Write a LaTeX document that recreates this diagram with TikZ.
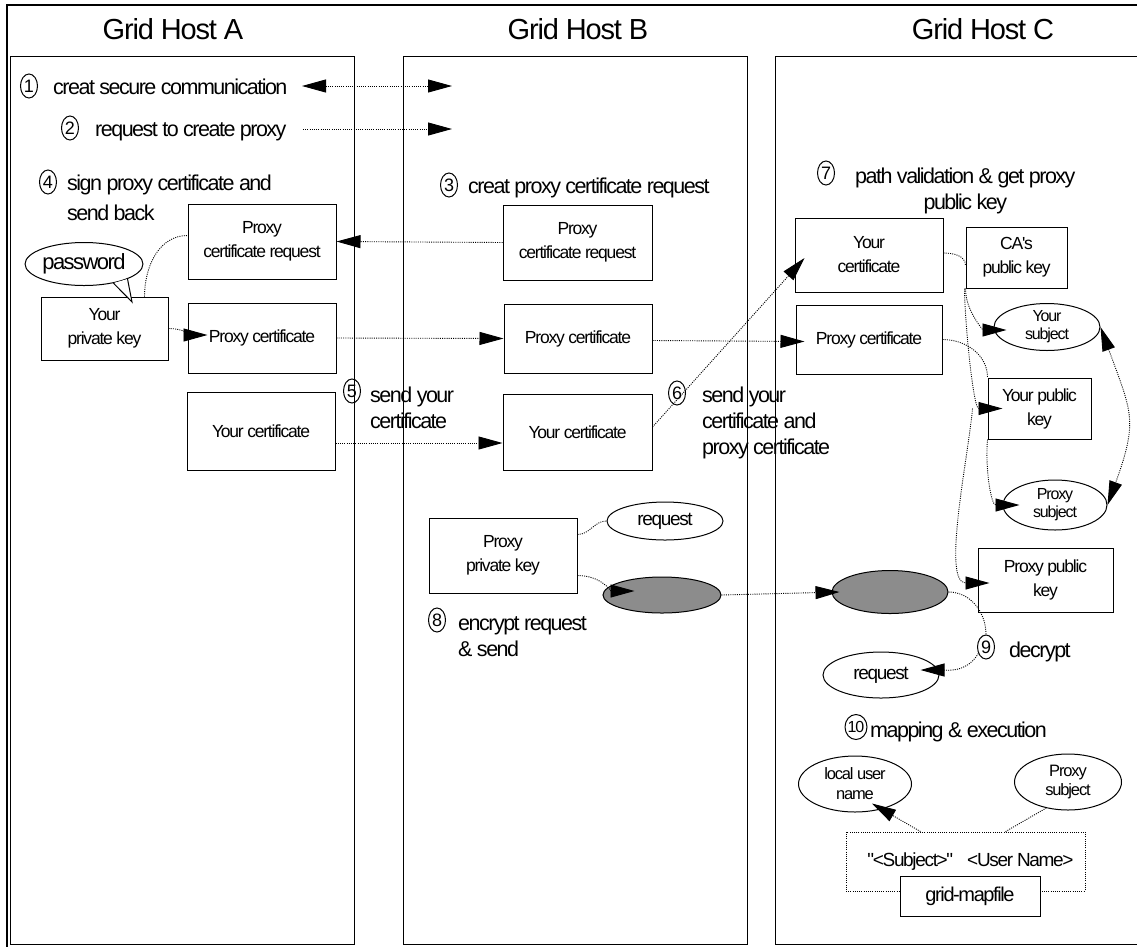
\documentclass[tikz,border=0pt]{standalone}
\usepackage{fontspec}
\setmainfont{Liberation Sans}
\newfontfamily\tightfont{Liberation Sans}[LetterSpace=-7]
\newfontfamily\titlefam{Liberation Sans}[LetterSpace=-4]
\usetikzlibrary{arrows.meta,shapes.geometric}

\tikzset{
  panel/.style={draw, line width=1.3pt, inner sep=0pt, anchor=north west},
  hosttitle/.style={inner sep=0pt, font=\titlefam\fontsize{29}{32}\selectfont},
  box/.style={draw, line width=1pt, fill=white, align=center, inner sep=0pt,
    font=\tightfont\fontsize{17.5}{24}\selectfont},
  oval/.style={draw, ellipse, line width=1pt, fill=white, align=center, inner sep=-5pt,
    font=\tightfont\fontsize{16}{18}\selectfont},
  cipher/.style={draw, ellipse, line width=1pt, fill=black!45, inner sep=0pt},
  num/.style={draw, ellipse, line width=1pt, inner sep=0pt, minimum width=17pt,
    minimum height=24pt, font=\fontsize{18}{18}\selectfont},
  steptext/.style={anchor=base west, inner sep=0pt, align=left,
    font=\tightfont\fontsize{21.5}{26}\selectfont},
  link/.style={line width=0.9pt, dash pattern=on 1pt off 1.2pt},
  tip/.style={link, -{Triangle[length=24pt,width=13pt]}},
  tips/.style={link, {Triangle[length=24pt,width=13pt]}-{Triangle[length=24pt,width=13pt]}},
}

\begin{document}
\begin{tikzpicture}[x=1pt,y=-1pt]
\useasboundingbox (0,0) rectangle (1137,946);

% outer frame (runs off the right and bottom edges)
\draw[line width=1.2pt] (7,960) -- (7,5) -- (1150,5);

% host panels
\node[panel, minimum width=344pt, minimum height=888pt] (pA) at (10,56) {};
\node[panel, minimum width=344pt, minimum height=888pt] (pB) at (403,56) {};
\node[panel, minimum width=380pt, minimum height=888pt] (pC) at (775,56) {};

\node[hosttitle] (tA) at (173,29) {Grid Host A};
\node[hosttitle] (tB) at (578,29) {Grid Host B};
\node[hosttitle] (tC) at (983,29) {Grid Host C};

% ---- step labels (multi-line labels sit on the baseline of their last line) ----
\node[num] (n1) at (29,86) {\makebox[0pt]{1}};
\node[steptext] (s1) at (53,94) {creat secure communication};
\node[num] (n2) at (70,128) {\makebox[0pt]{2}};
\node[steptext] (s2) at (95,136) {request to create proxy};
\node[num] (n4) at (48,182) {\makebox[0pt]{4}};
\node[steptext] (s4) at (67,220) {sign proxy certificate and\\[4pt]send back};
\node[num] (n3) at (449,185) {\makebox[0pt]{3}};
\node[steptext] (s3) at (468,193) {creat proxy certificate request};
\node[num] (n5) at (352,391) {\makebox[0pt]{5}};
\node[steptext] (s5) at (370,428) {send your\\certificate};
\node[num] (n6) at (677,393) {\makebox[0pt]{6}};
\node[steptext] (s6) at (702,454) {send your\\certificate and\\proxy certificate};
\node[num] (n7) at (826,173) {\makebox[0pt]{7}};
\node[steptext, align=center] (s7) at (855,209) {path validation \& get proxy\\public key};
\node[num] (n8) at (437,620) {\makebox[0pt]{8}};
\node[steptext] (s8) at (458,656) {encrypt request\\\& send};
\node[num] (n9) at (986,647) {\makebox[0pt]{9}};
\node[steptext] (s9) at (1009,657) {decrypt};
\node[num, minimum width=22pt, minimum height=25pt, font=\tightfont\fontsize{16}{16}\selectfont]
  (n10) at (856,727) {\makebox[0pt]{10}};
\node[steptext] (s10) at (870,737) {mapping \& execution};

% ---- Grid Host A ----
\node[box, minimum width=148pt, minimum height=75pt] (Areq) at (262,241.5) {Proxy\\certificate request};
\node[box, minimum width=127pt, minimum height=63pt] (Apriv) at (104.5,328.5) {Your\\private key};
\node[box, minimum width=148pt, minimum height=70pt] (Aproxy) at (262,338) {Proxy certificate};
\node[box, minimum width=148pt, minimum height=78pt] (Acert) at (261,431) {Your certificate};
\node[draw, ellipse, line width=1pt, fill=white, inner sep=0pt, minimum width=108pt,
  minimum height=43pt, font=\tightfont\fontsize{22}{24}\selectfont] (pw) at (84,264) {password};
\coordinate (pwtip) at (132,302);
\fill[white] (pw.-33) -- (pwtip) -- (pw.-19) -- cycle;
\draw[line width=1pt] (pw.-33) -- (pwtip) -- (pw.-19);

% ---- Grid Host B ----
\node[box, minimum width=149pt, minimum height=75pt] (Breq) at (577.5,242.5) {Proxy\\certificate request};
\node[box, minimum width=148pt, minimum height=69pt] (Bproxy) at (578,338.5) {Proxy certificate};
\node[box, minimum width=149pt, minimum height=76pt] (Bcert) at (577.5,432) {Your certificate};
\node[box, minimum width=148pt, minimum height=75pt] (Bpriv) at (503,555.5) {Proxy\\private key};
\node[oval, minimum width=116pt, minimum height=38pt, font=\tightfont\fontsize{19}{22}\selectfont] (Breqo) at (665,521) {request};
\node[cipher, minimum width=118pt, minimum height=36pt] (Benc) at (662,595) {};

% ---- Grid Host C ----
\node[box, minimum width=148pt, minimum height=74pt] (Ccert) at (869,255) {Your\\certificate};
\node[box, minimum width=101pt, minimum height=61pt] (CA) at (1016.5,257.5) {CA's\\public key};
\node[box, minimum width=146pt, minimum height=69pt] (Cproxy) at (869,339.5) {Proxy certificate};
\node[oval, minimum width=106pt, minimum height=47pt] (Ysub) at (1047,327) {Your\\subject};
\node[box, minimum width=103pt, minimum height=61pt] (Ypub) at (1039.5,408.5) {Your public\\key};
\node[oval, minimum width=104pt, minimum height=50pt] (Psub) at (1055,505) {Proxy\\subject};
\node[box, minimum width=135pt, minimum height=64pt] (Ppub) at (1045.5,580) {Proxy public\\key};
\node[cipher, minimum width=116pt, minimum height=43pt] (Cenc) at (890,592) {};
\node[oval, minimum width=116pt, minimum height=46pt, font=\tightfont\fontsize{19}{22}\selectfont] (Creq) at (881,675) {request};
\node[oval, minimum width=113pt, minimum height=56pt, font=\tightfont\fontsize{16.5}{20}\selectfont] (luser) at (855,784) {local user\\name};
\node[oval, minimum width=107pt, minimum height=56pt, font=\tightfont\fontsize{16.5}{19}\selectfont] (psub2) at (1068,782) {Proxy\\subject};
\node[link, draw, minimum width=239pt, minimum height=59pt, inner sep=0pt,
  font=\tightfont\fontsize{19}{22}\selectfont] (mapbox) at (965.5,861.5) {\hspace*{10pt}"<Subject>"\hspace{14pt}<User Name>};
\node[box, minimum width=140pt, minimum height=40pt, font=\tightfont\fontsize{20}{22}\selectfont] (gridmap) at (970,896) {grid-mapfile};

% ---- connectors ----
\coordinate (c1l) at (302,86);
\coordinate (c1r) at (452,86);
\draw[tips] (c1l) -- (c1r);
\coordinate (c2l) at (303,129);
\coordinate (c2r) at (452,129);
\draw[tip] (c2l) -- (c2r);

\draw[tip] (Breq.west) -- (Areq.east);
\draw[link] ([xshift=40pt]Apriv.north) to[out=90,in=180] ([yshift=6pt]Areq.west);
\draw[tip] (Apriv.east) to[out=0,in=180] ([xshift=20pt,yshift=3pt]Aproxy.west);
\draw[tip] (Aproxy.east) -- (Bproxy.west);
\draw[tip] ([yshift=-12pt]Acert.east) -- ([yshift=-11pt]Bcert.west);
\draw[tip] ([yshift=-2pt]Bproxy.east) -- ([xshift=9pt,yshift=-2pt]Cproxy.west);
\draw[tip] ([yshift=5pt]Bcert.east) -- ([xshift=10pt,yshift=-3pt]Ccert.west);

\draw[link] ([yshift=21pt]Bpriv.east) to[out=0,in=180] (Breqo.west);
\draw[tip] ([yshift=-20pt]Bpriv.east) to[out=0,in=180] ([xshift=32pt,yshift=4pt]Benc.west);
\draw[tip] (Benc.east) -- ([xshift=8pt]Cenc.west);

\draw[link] ([yshift=2pt]Ccert.east) to[out=0,in=90] ([yshift=-8pt]CA.west);
\draw[tip] (CA.south west) to[out=-90,in=180] ([xshift=13pt,yshift=-3pt]Ysub.west);
\draw[tip] ([xshift=-1pt]CA.south west) to[out=-90,in=180,looseness=0.6] ([xshift=15pt]Ypub.west);
\draw[link] (Cproxy.east) to[out=0,in=90] (Ypub.north west);
\draw[tip] (Ypub.south west) to[out=-95,in=180] ([xshift=17pt]Psub.west);
\draw[tip] ([xshift=-15pt]Ypub.west) to[out=-95,in=180,looseness=0.7] ([xshift=12pt,yshift=-3pt]Ppub.west);
\draw[tips] (Ysub.east) to[out=-70,in=70,looseness=1.3] (Psub.east);

\draw[link] (Cenc.east) to[out=0,in=90] (n9.north);
\draw[tip] (n9.-140) to[out=-120,in=0] ([xshift=-19pt,yshift=5pt]Creq.east);

\draw[tip] ([xshift=-45pt]mapbox.north) -- ([xshift=17pt,yshift=9pt]luser.south);
\draw[link] ([xshift=40pt]mapbox.north) -- (psub2.-130);
\end{tikzpicture}
\end{document}
